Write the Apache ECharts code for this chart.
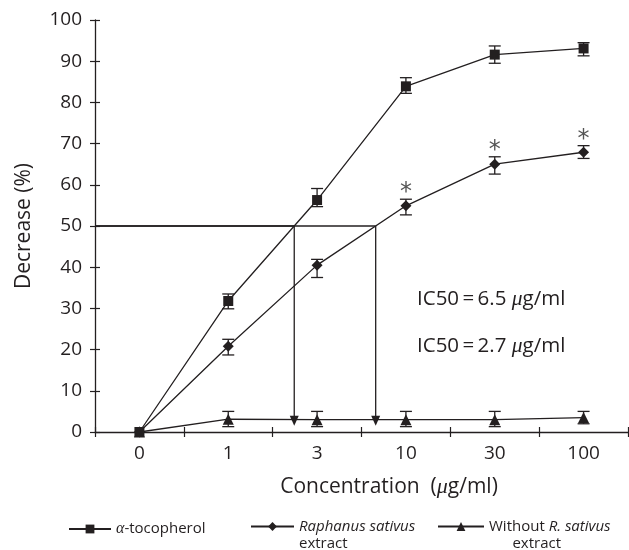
<!DOCTYPE html>
<html>
<head>
<meta charset="UTF-8">
<title>Decrease vs concentration</title>
<script src="https://cdn.jsdelivr.net/npm/echarts@6/dist/echarts.min.js"></script>
<style>
  html, body { margin: 0; padding: 0; background: #fff; }
  #chart { width: 629px; height: 550px; }
</style>
</head>
<body>
<div id="chart"></div>
<script>
// concentrations (ug/ml), drawn as evenly spaced categories
var categories = ['0', '1', '3', '10', '30', '100'];
var yTicks = [0, 100, 10]; // min, max, step

// alpha-tocopherol
var tocoMean = [0, 31.8, 56.3, 83.9, 91.6, 93.1];
var tocoLow  = [0, 29.9, 54.7, 82.2, 89.5, 91.3];
var tocoHigh = [0, 33.5, 59.1, 86.0, 93.7, 94.5];

// Raphanus sativus extract
var raphMean = [0, 20.8, 40.5, 54.9, 65.0, 67.9];
var raphLow  = [0, 18.7, 37.5, 52.7, 62.6, 66.4];
var raphHigh = [0, 22.5, 41.9, 56.5, 66.8, 69.5];
var raphSig  = ['', '', '', '*', '*', '*'];

// without R. sativus extract
var woMean = [0, 3.1, 3.0, 3.0, 3.0, 3.5];
var woLow  = [0, 1.3, 1.3, 1.3, 1.3, 2.0];
var woHigh = [0, 5.0, 5.0, 5.0, 5.0, 5.0];

var ic50Texts = ['6.5', '2.7'];
var halfLevel = 50;

var ink = '#231f20';
var font = '"Open Sans", "Noto Sans", sans-serif';

// where a series crosses a level, in category-index units
function crossAt(vals, level) {
  for (var i = 0; i < vals.length - 1; i++) {
    if (vals[i] < level && vals[i + 1] >= level) {
      return i + (level - vals[i]) / (vals[i + 1] - vals[i]);
    }
  }
  return null;
}
var crossToco = crossAt(tocoMean, halfLevel);
var crossRaph = crossAt(raphMean, halfLevel);

function barData(low, high, marks) {
  return categories.map(function (c, i) {
    return [i, low[i], high[i], marks ? marks[i] : ''];
  });
}

function renderBar(params, api) {
  var lo = api.coord([api.value(0), api.value(1)]);
  var hi = api.coord([api.value(0), api.value(2)]);
  var w = 6;
  var st = { stroke: ink, lineWidth: 1.3 };
  var kids = [];
  if (hi[1] < lo[1] - 0.5) {
    kids.push({ type: 'line', shape: { x1: lo[0], y1: lo[1], x2: hi[0], y2: hi[1] }, style: st });
    kids.push({ type: 'line', shape: { x1: lo[0] - w, y1: lo[1], x2: lo[0] + w, y2: lo[1] }, style: st });
    kids.push({ type: 'line', shape: { x1: hi[0] - w, y1: hi[1], x2: hi[0] + w, y2: hi[1] }, style: st });
  }
  var mark = api.value(3);
  if (mark) {
    kids.push({
      type: 'text',
      style: { text: mark, x: hi[0], y: hi[1] - 6, align: 'center', verticalAlign: 'middle',
               font: '24px "DejaVu Sans", sans-serif', fill: '#555' }
    });
  }
  return { type: 'group', children: kids };
}

function renderGuide(params, api) {
  var x = api.value(0);
  var top = api.coord([x, api.value(1)]);
  var start = api.coord([-0.5, api.value(1)]);
  var tip = api.coord([x, 1.5]);
  var st = { stroke: ink, lineWidth: 1.3 };
  return {
    type: 'group',
    children: [
      { type: 'line', shape: { x1: start[0], y1: start[1], x2: top[0], y2: top[1] }, style: st },
      { type: 'line', shape: { x1: top[0], y1: top[1], x2: tip[0], y2: tip[1] - 6 }, style: st },
      { type: 'polygon', shape: { points: [[tip[0] - 4.5, tip[1] - 10], [tip[0] + 4.5, tip[1] - 10], [tip[0], tip[1]]] },
        style: { fill: ink } }
    ]
  };
}

var lineSeries = function (name, data, symbol, size) {
  return {
    name: name, type: 'line', data: data, xAxisIndex: 0, yAxisIndex: 0,
    symbol: symbol, symbolSize: size, showSymbol: true,
    lineStyle: { color: ink, width: 1.3 },
    itemStyle: { color: ink },
    z: 3
  };
};

var legendText = {
  fontFamily: font, fontSize: 15, color: ink,
  rich: {
    g: { fontFamily: '"Liberation Serif", serif', fontStyle: 'italic', fontSize: 16 },
    i: { fontStyle: 'italic', fontFamily: font, fontSize: 15 },
    n: { fontFamily: font, fontSize: 15 }
  }
};
var twoLine = JSON.parse(JSON.stringify(legendText));
twoLine.lineHeight = 17;
twoLine.padding = [17, 0, 0, 0];
twoLine.rich.i.lineHeight = 17;
twoLine.rich.n.lineHeight = 17;

var chart = echarts.init(document.getElementById('chart'), null, { renderer: 'canvas' });
chart.setOption({
  animation: false,
  backgroundColor: '#fff',
  textStyle: { fontFamily: font },
  grid: { left: 95, right: 1, top: 20, bottom: 118 },
  xAxis: [{
    type: 'category', data: categories, position: 'bottom', boundaryGap: true,
    name: 'Concentration  ({m|μ}g/ml)', nameLocation: 'middle', nameGap: 44,
    nameTextStyle: { fontSize: 21, color: ink, fontFamily: font, padding: [0, 0, 0, 55],
      rich: { m: { fontFamily: '"Liberation Serif", serif', fontStyle: 'italic', fontSize: 22 } } },
    axisLine: { show: true, onZero: false, lineStyle: { color: ink, width: 1.3 } },
    axisTick: { show: true, inside: false, length: 5, lineStyle: { color: ink, width: 1.2 } },
    axisLabel: { fontSize: 19, color: ink, margin: 12, fontFamily: font },
    splitLine: { show: false }
  }, {
    type: 'category', data: categories, position: 'bottom', boundaryGap: true,
    axisLine: { show: false, onZero: false },
    axisTick: { show: true, inside: true, length: 5, lineStyle: { color: ink, width: 1.2 } },
    axisLabel: { show: false },
    splitLine: { show: false }
  }, {
    type: 'value', min: -0.5, max: categories.length - 0.5, position: 'bottom', show: false,
    axisLine: { onZero: false }
  }],
  yAxis: [{
    type: 'value', min: yTicks[0], max: yTicks[1], interval: yTicks[2], position: 'left',
    name: 'Decrease (%)', nameLocation: 'middle', nameGap: 60,
    nameTextStyle: { fontSize: 21, color: ink, fontFamily: font },
    axisLine: { show: true, onZero: false, lineStyle: { color: ink, width: 1.3 } },
    axisTick: { show: true, inside: false, length: 5, lineStyle: { color: ink, width: 1.2 } },
    axisLabel: { fontSize: 19, color: ink, margin: 13, fontFamily: font },
    splitLine: { show: false }
  }, {
    type: 'value', min: yTicks[0], max: yTicks[1], interval: yTicks[2], position: 'left',
    axisLine: { show: false, onZero: false },
    axisTick: { show: true, inside: true, length: 5, lineStyle: { color: ink, width: 1.2 } },
    axisLabel: { show: false },
    splitLine: { show: false }
  }],
  legend: [{
    data: ['α-tocopherol'], left: 68, top: 521, padding: 0, orient: 'horizontal',
    itemWidth: 42, itemHeight: 11,
    formatter: function () { return '{g|α}{n|-tocopherol}'; },
    textStyle: legendText
  }, {
    data: ['Raphanus sativus extract'], left: 250, top: 501, padding: 0,
    itemWidth: 43, itemHeight: 11,
    formatter: function () { return '{i|Raphanus sativus}\n{n|extract}'; },
    textStyle: twoLine
  }, {
    data: ['Without R. sativus extract'], left: 437, top: 501, padding: 0,
    itemWidth: 46, itemHeight: 11,
    formatter: function () { return '{n|Without }{i|R. sativus}\n{n|      extract}'; },
    textStyle: twoLine
  }],
  graphic: ic50Texts.map(function (v, k) {
    return {
      type: 'text', left: 417, top: 288 + k * 47, silent: true,
      style: {
        text: '{t|IC50\u2009=\u2009' + v + ' }{m|μ}{t|g/ml}',
        fill: ink,
        rich: {
          t: { fontFamily: font, fontSize: 20.5, fill: ink },
          m: { fontFamily: '"Liberation Serif", serif', fontStyle: 'italic', fontSize: 21.5, fill: ink }
        }
      }
    };
  }),
  series: [
    {
      name: 'guides', type: 'custom', xAxisIndex: 2, yAxisIndex: 0,
      data: [[crossToco, halfLevel], [crossRaph, halfLevel]],
      renderItem: renderGuide, silent: true, z: 1
    },
    lineSeries('Without R. sativus extract', woMean, 'triangle', 11),
    lineSeries('Raphanus sativus extract', raphMean, 'diamond', 11),
    lineSeries('α-tocopherol', tocoMean, 'rect', 10),
    { name: 'errToco', type: 'custom', xAxisIndex: 0, yAxisIndex: 0, data: barData(tocoLow, tocoHigh),
      renderItem: renderBar, encode: { x: 0, y: [1, 2] }, z: 2 },
    { name: 'errRaph', type: 'custom', xAxisIndex: 0, yAxisIndex: 0, data: barData(raphLow, raphHigh, raphSig),
      renderItem: renderBar, encode: { x: 0, y: [1, 2] }, z: 2 },
    { name: 'errWo', type: 'custom', xAxisIndex: 0, yAxisIndex: 0, data: barData(woLow, woHigh),
      renderItem: renderBar, encode: { x: 0, y: [1, 2] }, z: 2 }
  ]
});
</script>
</body>
</html>
